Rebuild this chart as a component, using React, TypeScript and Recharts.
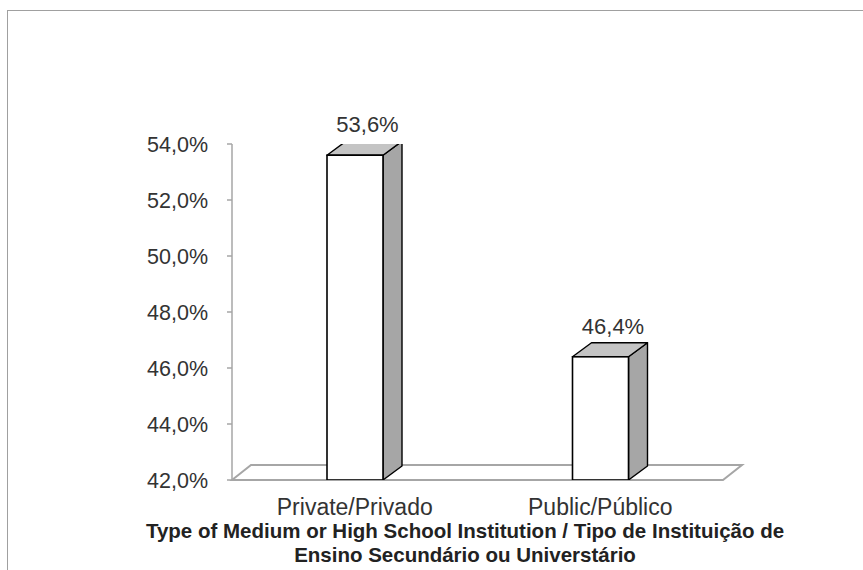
import { Bar, BarChart, LabelList, ReferenceLine, XAxis, YAxis, Label } from "recharts"

const categories = ["Private/Privado", "Public/Público"]
const shares = [53.6, 46.4]
const yTicks = [42, 44, 46, 48, 50, 52, 54]
const titleLines = [
  "Type of Medium or High School Institution / Tipo de Instituição de",
  "Ensino Secundário ou Universtário",
]

const data = categories.map((name, i) => ({ name, value: shares[i] }))

const DX = 19
const DY = 14
const FONT = "'Liberation Sans', Arial, sans-serif"
const fmt = (v: number) => v.toFixed(1).replace(".", ",") + "%"

function Box3D(props: any) {
  const { x, y, width: w, height: h } = props
  return (
    <g>
      <polygon
        points={`${x + w},${y} ${x + w + DX},${y - DY} ${x + w + DX},${y + h - DY} ${x + w},${y + h}`}
        fill="#a6a6a6"
        stroke="#000"
        strokeWidth={1.4}
        strokeLinejoin="round"
      />
      <polygon
        points={`${x},${y} ${x + DX},${y - DY} ${x + w + DX},${y - DY} ${x + w},${y}`}
        fill="#c4c4c4"
        stroke="#000"
        strokeWidth={1.4}
        strokeLinejoin="round"
      />
      <rect x={x} y={y} width={w} height={h} fill="#fff" stroke="#000" strokeWidth={1.6} />
    </g>
  )
}

function Floor(props: any) {
  const { x1, y1, x2 } = props
  const y = y1
  return (
    <polygon
      points={`${x1},${y} ${x1 + DX},${y - 15} ${x2 + DX},${y - 15} ${x2},${y}`}
      fill="#fff"
      stroke="#a6a6a6"
      strokeWidth={2}
    />
  )
}

function ValueLabel(props: any) {
  const { x, y, width, value } = props
  return (
    <text
      x={x + width / 2 + DX / 2 + 3}
      y={y - DY - 9}
      textAnchor="middle"
      fontSize={22}
      fontFamily={FONT}
      fill="#333"
    >
      {fmt(value)}
    </text>
  )
}

function CategoryTick(props: any) {
  const { x, y, payload } = props
  return (
    <text x={x} y={y + 27} textAnchor="middle" fontSize={23} fontFamily={FONT} fill="#333">
      {payload.value}
    </text>
  )
}

function AxisTitle(props: any) {
  const { viewBox } = props
  const cx = 465
  const top = viewBox.y
  return (
    <text textAnchor="middle" fontSize={20.5} fontWeight="bold" fontFamily={FONT} fill="#222">
      {titleLines.map((t, i) => (
        <tspan key={i} x={cx} y={top + 58 + i * 24}>
          {t}
        </tspan>
      ))}
    </text>
  )
}

export default function App() {
  return (
    <div style={{ position: "absolute", left: 0, top: 0, width: 863, height: 570, overflow: "hidden", background: "#fff" }}>
      <div
        style={{
          position: "absolute",
          left: 7,
          top: 10,
          width: 900,
          height: 600,
          border: "1px solid #a0a0a0",
          boxSizing: "border-box",
        }}
      />
      <div style={{ position: "absolute", left: 0, top: 0 }}>
        <BarChart
          width={863}
          height={570}
          data={data}
          margin={{ top: 144, right: 140, left: 0, bottom: 0 }}
          style={{ overflow: "visible" }}
        >
          <ReferenceLine y={42} shape={Floor} ifOverflow="visible" zIndex={-10} />
          <XAxis
            dataKey="name"
            height={90}
            axisLine={false}
            tickLine={false}
            tick={CategoryTick}
            interval={0}
          >
            <Label content={AxisTitle} position="insideBottom" />
          </XAxis>
          <YAxis
            width={232}
            domain={[42, 54]}
            ticks={yTicks}
            allowDataOverflow
            stroke="#a6a6a6"
            strokeWidth={1.5}
            tickSize={5}
            tickMargin={19}
            tickFormatter={fmt}
            tick={{ fill: "#333", fontSize: 21.5, fontFamily: FONT }}
          />
          <Bar dataKey="value" barSize={56} shape={Box3D} isAnimationActive={false}>
            <LabelList dataKey="value" content={ValueLabel} />
          </Bar>
        </BarChart>
      </div>
    </div>
  )
}
